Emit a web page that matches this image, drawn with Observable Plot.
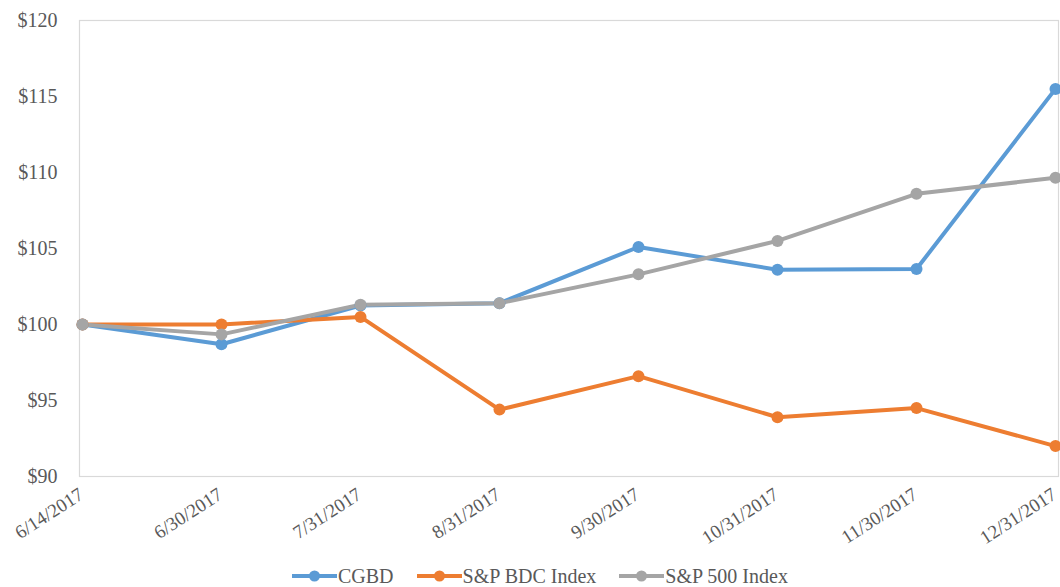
<!DOCTYPE html>
<html>
<head>
<meta charset="utf-8">
<script src="https://cdn.jsdelivr.net/npm/d3@7"></script>
<script src="https://cdn.jsdelivr.net/npm/@observablehq/plot@0.6"></script>
<style>
  html, body { margin: 0; padding: 0; background: #fff; overflow: hidden; }
  #chart svg { display: block; }
  #legend { display: flex; justify-content: flex-start; align-items: center; height: 22px; font-family: "Liberation Serif", serif; font-size: 20px; color: #595959; padding-left: 291px; }
  .item { display: flex; align-items: center; margin-right: 22px; }
  .item svg { margin-right: 0px; }
</style>
</head>
<body>
<div id="chart"></div>
<div id="legend"></div>
<script>
const dates = ["6/14/2017", "6/30/2017", "7/31/2017", "8/31/2017", "9/30/2017", "10/31/2017", "11/30/2017", "12/31/2017"];
const seriesNames = ["CGBD", "S&P BDC Index", "S&P 500 Index"];
const cgbd = [100, 98.7, 101.25, 101.4, 105.1, 103.6, 103.65, 115.5];
const bdc = [100, 100, 100.5, 94.4, 96.6, 93.9, 94.5, 92.0];
const sp500 = [100, 99.35, 101.3, 101.4, 103.3, 105.5, 108.6, 109.65];
const colors = ["#5B9BD5", "#ED7D31", "#A5A5A5"];
const yTicks = [90, 95, 100, 105, 110, 115, 120];

const rows = [];
[cgbd, bdc, sp500].forEach((vals, s) => {
  vals.forEach((v, i) => rows.push({series: seriesNames[s], date: dates[i], value: v}));
});

const chart = Plot.plot({
  width: 1060,
  height: 565,
  marginLeft: 79,
  marginRight: 2,
  marginTop: 20,
  marginBottom: 89,
  style: {fontFamily: "'Liberation Serif', serif", fontSize: "20px", color: "#595959", background: "#fff"},
  x: {type: "point", domain: dates, padding: 0, label: null},
  y: {domain: [90, 120], label: null},
  color: {domain: seriesNames, range: colors},
  marks: [
    Plot.frame({stroke: "#d9d9d9", strokeWidth: 1.2}),
    Plot.axisY({ticks: yTicks, tickFormat: d => "$" + d, tickSize: 0, tickPadding: 22, fill: "#595959", fontSize: 20}),
    Plot.axisX({tickSize: 0, tickRotate: -33, tickPadding: 16, dx: -1, fill: "#595959", fontSize: 19}),
    Plot.line(rows, {x: "date", y: "value", stroke: "series", z: "series", strokeWidth: 4, strokeLinejoin: "round"}),
    Plot.dot(rows, {x: "date", y: "value", fill: "series", r: 6})
  ]
});
document.getElementById("chart").appendChild(chart);

const legend = document.getElementById("legend");
seriesNames.forEach((name, i) => {
  const item = document.createElement("div");
  item.className = "item";
  item.innerHTML = `<svg width="47" height="14"><line x1="1" y1="7" x2="46" y2="7" stroke="${colors[i]}" stroke-width="4"/><circle cx="23.5" cy="7" r="5.5" fill="${colors[i]}"/></svg><span></span>`;
  item.querySelector("span").textContent = name;
  legend.appendChild(item);
});
</script>
</body>
</html>
